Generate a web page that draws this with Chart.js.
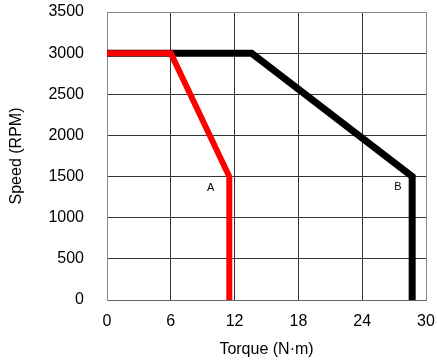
<!DOCTYPE html>
<html>
<head>
<meta charset="utf-8">
<script src="https://cdn.jsdelivr.net/npm/chart.js@4/dist/chart.umd.min.js"></script>
<style>
  html, body { margin: 0; padding: 0; background: #fff; }
  #wrap { width: 437px; height: 361px; }
</style>
</head>
<body>
<div id="wrap"><canvas id="chart" width="437" height="361"></canvas></div>
<script>
// curve A (red) and curve B (black): torque in N·m, speed in RPM
const curveATorque = [0, 6, 11.5, 11.5];
const curveASpeed = [3000, 3000, 1500, 0];
const curveBTorque = [0, 13.6, 28.7, 28.7];
const curveBSpeed = [3000, 3000, 1500, 0];

const curveLabels = ["A", "B"];
const labelTorque = [9.75, 27.35];
const labelSpeed = [1360, 1370];

const xTicks = [0, 6, 12, 18, 24, 30];
const yTicks = [0, 500, 1000, 1500, 2000, 2500, 3000, 3500];

const toPoints = (xs, ys) => xs.map((x, i) => ({ x, y: ys[i] }));

const curveLabelPlugin = {
  id: "curveLabels",
  afterDatasetsDraw(chart) {
    const { ctx, scales } = chart;
    ctx.save();
    ctx.fillStyle = "#000";
    ctx.font = "11px 'Liberation Sans', Arial, sans-serif";
    ctx.textAlign = "center";
    ctx.textBaseline = "middle";
    curveLabels.forEach((t, i) => {
      ctx.fillText(t, scales.x.getPixelForValue(labelTorque[i]), scales.y.getPixelForValue(labelSpeed[i]));
    });
    ctx.restore();
  },
};

const font = { family: "'Liberation Sans', Arial, sans-serif", size: 16 };

new Chart(document.getElementById("chart"), {
  type: "line",
  data: {
    datasets: [
      {
        label: "A",
        data: toPoints(curveATorque, curveASpeed),
        borderColor: "#ff0000",
        borderWidth: 6,
        pointRadius: 0,
        tension: 0,
      },
      {
        label: "B",
        data: toPoints(curveBTorque, curveBSpeed),
        borderColor: "#000000",
        borderWidth: 7,
        pointRadius: 0,
        tension: 0,
      },
    ],
  },
  options: {
    responsive: false,
    animation: false,
    layout: { padding: { top: 12, right: 11, left: 0, bottom: 0 } },
    plugins: {
      legend: { display: false },
      tooltip: { enabled: false },
    },
    scales: {
      x: {
        type: "linear",
        min: 0,
        max: 30,
        afterBuildTicks: (s) => { s.ticks = xTicks.map((v) => ({ value: v })); },
        afterFit: (s) => {
          s.height = 61;
          s.paddingLeft = 0;
          s.paddingRight = 0;
        },
        ticks: { color: "#000", font, padding: 12, maxRotation: 0, callback: (v) => String(v) },
        grid: {
          color: (c) => (c.tick && c.tick.value === 30 ? "#888" : "#333"),
          drawTicks: false,
        },
        border: { color: "#666" },
        title: { display: true, text: "Torque (N·m)", color: "#000", font, padding: { top: 0, bottom: 2 } },
      },
      y: {
        type: "linear",
        min: 0,
        max: 3500,
        afterBuildTicks: (s) => { s.ticks = yTicks.map((v) => ({ value: v })); },
        afterFit: (s) => {
          s.width = 107;
          s.paddingTop = 0;
          s.paddingBottom = 0;
        },
        ticks: { color: "#000", font, padding: 23, callback: (v) => String(v) },
        grid: {
          color: (c) => (c.tick && c.tick.value === 3500 ? "#888" : "#333"),
          drawTicks: false,
        },
        border: { color: "#888" },
        title: { display: true, text: "Speed (RPM)", color: "#000", font, padding: { top: 7, bottom: 0 } },
      },
    },
  },
  plugins: [curveLabelPlugin],
});
</script>
</body>
</html>
